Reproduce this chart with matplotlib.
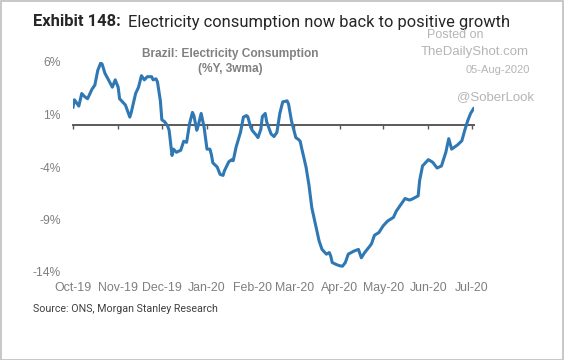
import numpy as np
import pandas as pd
import matplotlib
matplotlib.use("Agg")
import matplotlib.pyplot as plt
import matplotlib.dates as mdates
from matplotlib.patches import Rectangle

# Brazil electricity consumption, %Y 3wma
dates = [
    "2019-10-01", "2019-10-02", "2019-10-05", "2019-10-07", "2019-10-09", "2019-10-11",
    "2019-10-14", "2019-10-16", "2019-10-18", "2019-10-20", "2019-10-21", "2019-10-23",
    "2019-10-25", "2019-10-28", "2019-10-30", "2019-11-01", "2019-11-02", "2019-11-06",
    "2019-11-09", "2019-11-10", "2019-11-13", "2019-11-15", "2019-11-17", "2019-11-19",
    "2019-11-21", "2019-11-24", "2019-11-25", "2019-11-27", "2019-11-28", "2019-11-30",
    "2019-12-01", "2019-12-03", "2019-12-05", "2019-12-06", "2019-12-08", "2019-12-09",
    "2019-12-11", "2019-12-14", "2019-12-16", "2019-12-18", "2019-12-20", "2019-12-22",
    "2019-12-23", "2019-12-25", "2019-12-26", "2019-12-28", "2019-12-30", "2020-01-01",
    "2020-01-03", "2020-01-04", "2020-01-05", "2020-01-08", "2020-01-10", "2020-01-12",
    "2020-01-13", "2020-01-16", "2020-01-18", "2020-01-19", "2020-01-21", "2020-01-24",
    "2020-01-26", "2020-01-28", "2020-01-29", "2020-01-31", "2020-02-01", "2020-02-04",
    "2020-02-05", "2020-02-07", "2020-02-08", "2020-02-10", "2020-02-11", "2020-02-14",
    "2020-02-16", "2020-02-18", "2020-02-20", "2020-02-22", "2020-02-25", "2020-02-26",
    "2020-02-28", "2020-03-02", "2020-03-04", "2020-03-05", "2020-03-06", "2020-03-09",
    "2020-03-11", "2020-03-13", "2020-03-16", "2020-03-18", "2020-03-20", "2020-03-23",
    "2020-03-25", "2020-03-26", "2020-03-27", "2020-03-30", "2020-04-01", "2020-04-03",
    "2020-04-05", "2020-04-07", "2020-04-09", "2020-04-11", "2020-04-14", "2020-04-16",
    "2020-04-18", "2020-04-20", "2020-04-22", "2020-04-23", "2020-04-25", "2020-04-28",
    "2020-05-01", "2020-05-04", "2020-05-08", "2020-05-10", "2020-05-13", "2020-05-16",
    "2020-05-19", "2020-05-21", "2020-05-25", "2020-05-26", "2020-05-28", "2020-06-01",
    "2020-06-04", "2020-06-07", "2020-06-10", "2020-06-13", "2020-06-15", "2020-06-17",
    "2020-06-21", "2020-06-24", "2020-06-26", "2020-06-28", "2020-06-30", "2020-07-02",
]
growth = [
    1.7, 2.4, 1.8, 3.0, 2.7, 2.5,
    3.4, 3.8, 5.2, 5.9, 5.8, 4.9,
    4.4, 3.6, 4.3, 3.6, 2.5, 1.9,
    0.75, 1.2, 3.0, 3.6, 4.7, 4.3,
    4.6, 4.6, 4.3, 4.4, 4.1, 2.3,
    0.5, 0.3, -0.1, -0.5, -2.9, -2.3,
    -2.6, -2.4, -1.55, -1.65, 0.1, 1.2,
    0.9, -0.5, -0.05, 1.1, -0.2, -2.3,
    -2.3, -2.8, -3.6, -4.0, -4.7, -4.8,
    -4.35, -3.5, -3.3, -3.4, -2.1, -0.7,
    0.75, 0.9, 0.8, -0.2, -0.5, -1.0,
    -1.2, -0.4, 0.8, 1.1, 0.3, -0.85,
    -1.1, -0.7, 1.1, 2.2, 2.3, 2.0,
    0.4, -1.2, -1.4, -1.55, -2.2, -4.0,
    -5.7, -7.9, -9.8, -11.05, -11.85, -12.3,
    -12.15, -12.5, -13.1, -13.3, -13.4, -13.45,
    -13.1, -12.3, -12.15, -12.0, -11.85, -12.65,
    -12.2, -11.85, -11.5, -11.3, -10.5, -10.25,
    -9.6, -9.15, -8.8, -8.2, -7.6, -7.0,
    -7.15, -7.05, -6.75, -5.3, -3.9, -3.3,
    -3.55, -4.1, -3.9, -2.6, -1.3, -2.3,
    -1.9, -1.5, -0.5, 0.4, 1.1, 1.55,
]
yticks = [-14, -9, -4, 1, 6]
month_ticks = pd.date_range("2019-10-01", "2020-07-01", freq="MS")

x = pd.to_datetime(dates)

plt.rcParams["font.family"] = ["Liberation Sans", "DejaVu Sans"]

fig = plt.figure(figsize=(5.64, 3.6), dpi=100)
ax = fig.add_axes([73 / 564, 1 - 272 / 360, (473.5 - 73) / 564, (272 - 62) / 360])

ax.plot(x, growth, color="#2f78b4", lw=2.2, solid_joinstyle="round", zorder=3)

ax.set_ylim(-14, 6)
ax.set_xlim(pd.Timestamp("2019-10-01"), pd.Timestamp("2020-07-02"))
ax.set_yticks(yticks)
ax.set_yticklabels([f"{v}%" for v in yticks])
ax.tick_params(axis="y", length=0, pad=9, labelsize=8.7, labelcolor="#7f7f7f")

# zero line with month tick marks
for s in ["top", "right", "left"]:
    ax.spines[s].set_visible(False)
ax.spines["bottom"].set_position(("data", 0))
ax.spines["bottom"].set_color("#595959")
ax.spines["bottom"].set_linewidth(1.4)
ax.set_xticks(month_ticks)
ax.tick_params(axis="x", direction="out", length=3, width=1, color="#595959",
               labelbottom=False)

# month labels along the bottom
sec = ax.secondary_xaxis("bottom")
sec.set_xticks(month_ticks)
sec.xaxis.set_major_formatter(mdates.DateFormatter("%b-%y"))
sec.tick_params(length=0, pad=7, labelsize=8.9, labelcolor="#7f7f7f")
sec.spines["bottom"].set_visible(False)

# titles and notes
fig.text(33 / 564, 1 - 22 / 360, "Exhibit 148:", fontsize=11.9, fontweight="bold",
         family="Roboto", color="#262626", va="center")
fig.text(128 / 564, 1 - 22 / 360, "Electricity consumption now back to positive growth",
         fontsize=11.9, family="Roboto", color="#262626", va="center")
fig.text(230 / 564, 1 - 54 / 360, "Brazil: Electricity Consumption",
         fontsize=8.6, fontweight="bold", color="#808080", ha="center", va="center")
fig.text(230 / 564, 1 - 69 / 360, "(%Y, 3wma)",
         fontsize=8.6, fontweight="bold", color="#808080", ha="center", va="center")
fig.text(33 / 564, 1 - 309 / 360, "Source: ONS, Morgan Stanley Research",
         fontsize=7.7, family="Roboto", color="#404040", va="center")

# watermark
wm = "#b5b5b5"
fig.text(455 / 564, 1 - 35 / 360, "Posted on", fontsize=9, color=wm, ha="center", va="center")
fig.text(529 / 564, 1 - 52 / 360, "TheDailyShot.com", fontsize=9.5, color=wm, ha="right", va="center")
fig.text(530 / 564, 1 - 70 / 360, "05-Aug-2020", fontsize=8, color=wm, ha="right", va="center")
fig.text(534 / 564, 1 - 97 / 360, "@SoberLook", fontsize=9.5, color=wm, ha="right", va="center")

# frame around the picture
fig.patches.append(Rectangle((0.5 / 564, 0.5 / 360), 1 - 1.5 / 564, 1 - 1.5 / 360,
                             transform=fig.transFigure, fill=False,
                             edgecolor="#bfbfbf", lw=1.2))

fig.savefig("out.png", dpi=100)
